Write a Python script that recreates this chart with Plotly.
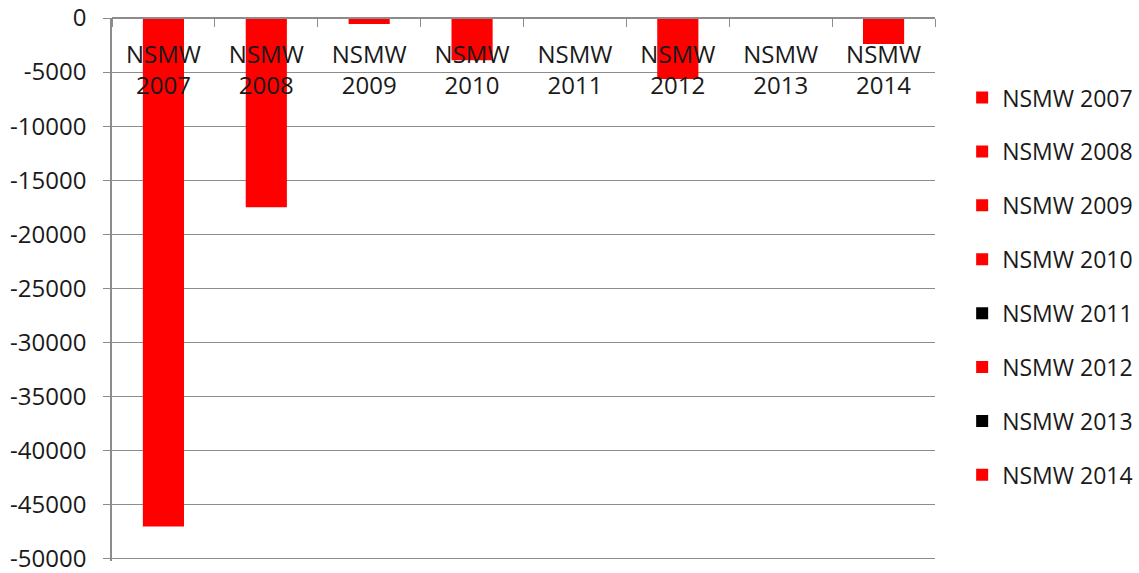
import plotly.graph_objects as go

categories = ["NSMW 2007", "NSMW 2008", "NSMW 2009", "NSMW 2010",
              "NSMW 2011", "NSMW 2012", "NSMW 2013", "NSMW 2014"]
tick_labels = ["NSMW<br>2007", "NSMW<br>2008", "NSMW<br>2009", "NSMW<br>2010",
               "NSMW<br>2011", "NSMW<br>2012", "NSMW<br>2013", "NSMW<br>2014"]
values = [-47000, -17500, -550, -3900, 0, -5650, 0, -2400]
colors = ["#FF0000", "#FF0000", "#FF0000", "#FF0000",
          "#000000", "#FF0000", "#000000", "#FF0000"]
y_ticks = [0, -5000, -10000, -15000, -20000, -25000, -30000, -35000, -40000, -45000, -50000]
y_tick_text = ["0", "-5000", "-10000", "-15000", "-20000", "-25000",
               "-30000", "-35000", "-40000", "-45000", "-50000"]
y_range = [-50200, 0]

FONT = "Open Sans"
TXT = "#1a1a1a"
fig = go.Figure()
for i, (cat, val, col) in enumerate(zip(categories, values, colors)):
    fig.add_trace(go.Bar(
        x=[cat], y=[val], name=cat, marker_color=col, marker_line_width=0,
        width=0.4, legendgroup=f"g{i}",
    ))

fig.update_layout(
    width=1139, height=573,
    margin=dict(l=112, r=204, t=18, b=12, autoexpand=False),
    plot_bgcolor="white", paper_bgcolor="white",
    barmode="relative",
    font=dict(family=FONT, size=23, color=TXT),
    showlegend=True,
    legend=dict(
        x=1.033, y=0.893, xanchor="left", yanchor="top",
        traceorder="grouped", tracegroupgap=21,
        font=dict(family=FONT, size=23, color=TXT),
        bgcolor="rgba(0,0,0,0)",
    ),
    xaxis=dict(
        side="bottom", anchor="free", position=1.0, automargin=False,
        tickmode="array", tickvals=categories, ticktext=tick_labels,
        showline=True, linecolor="#8c8c8c", linewidth=1.5,
        ticks="outside", tickson="boundaries", ticklen=8, tickcolor="#8c8c8c",
        showgrid=False, zeroline=False,
        tickfont=dict(family=FONT, size=24, color=TXT),
        ticklabelstandoff=15, ticklabeloverflow="allow",
    ),
    yaxis=dict(
        range=y_range, tickmode="array", tickvals=y_ticks, ticktext=y_tick_text,
        showgrid=True, gridcolor="#8c8c8c", gridwidth=1.2,
        showline=True, linecolor="#8c8c8c", linewidth=1.5,
        ticks="outside", ticklen=7, tickcolor="#8c8c8c",
        zeroline=False, automargin=False,
        tickfont=dict(family=FONT, size=24, color=TXT),
        ticklabelstandoff=12, ticklabeloverflow="allow",
    ),
)

fig.write_html("out.html", config={"displayModeBar": False},
               post_script="document.body.style.margin='0';")
